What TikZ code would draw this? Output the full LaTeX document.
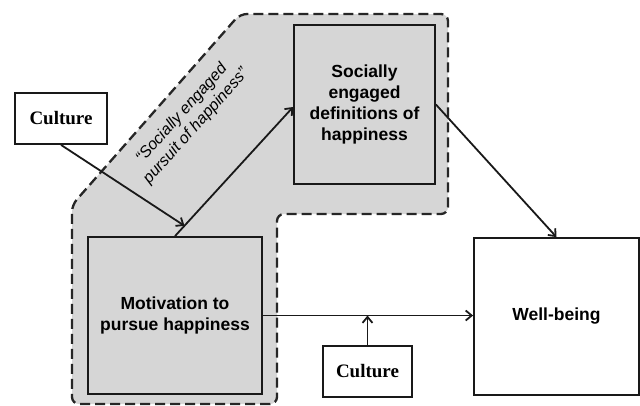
\documentclass[tikz,border=0pt]{standalone}
\usepackage{fontspec}
\setmainfont{Liberation Sans}
\newfontfamily\timesfont{Liberation Serif}
\usetikzlibrary{arrows.meta,calc}
\definecolor{regiongray}{RGB}{214,214,214}
\tikzset{
  box/.style={draw=black!90, line width=1.8pt, align=center, inner sep=0pt,
    font=\fontsize{17.5}{21}\selectfont\bfseries},
  graybox/.style={box, fill=regiongray},
  culturebox/.style={draw=black!90, line width=1.8pt, fill=white, inner sep=0pt,
    font=\timesfont\fontsize{19}{22}\selectfont\bfseries},
  arr/.style={line width=1.8pt, draw=black!90, -{Straight Barb[length=6pt,width=10pt,line width=1.8pt]}},
  region/.style={draw=black!85, fill=regiongray, line width=2.3pt,
    dash pattern=on 10pt off 5pt, rounded corners=7pt},
}
\begin{document}
\begin{tikzpicture}[x=1pt,y=-1pt]
\path[use as bounding box, fill=white] (0,0) rectangle (640,405);
% dashed region
\path[region] (277,404) -- (72,404) -- (72,205) -- (240,14) -- (448,14)
  -- (448,214) -- (277,214) -- cycle;
% boxes
\node[graybox, minimum width=174pt, minimum height=157pt] (mot) at (175,315.5)
  {Motivation to\\pursue happiness};
\node[graybox, minimum width=141pt, minimum height=159pt] (def) at (364.5,104.5)
  {Socially\\engaged\\definitions of\\happiness};
\node[box, minimum width=165pt, minimum height=157pt] (wb) at (556.5,316.5)
  {Well-being};
\node[culturebox, minimum width=92pt, minimum height=51pt] (cul1) at (61,118.5) {Culture};
\node[culturebox, minimum width=89pt, minimum height=51pt] (cul2) at (367.5,371.5) {Culture};
% label
\node[rotate=48, align=center, font=\fontsize{16}{19}\selectfont\itshape] (lab) at (189,120)
  {“Socially engaged\\pursuit of happiness”};
% connectors
\coordinate (dw) at ([yshift=-2.5pt]def.west);
\draw[arr] (mot.north) -- (dw);
\coordinate (hit) at ($(mot.north)!0.08!(dw)$);
\draw[arr] (cul1.south) -- (hit);
\draw[arr] (def.east) -- (wb.north);
\draw[arr] (mot.east) -- (mot.east -| wb.west);
\draw[arr] (cul2.north) -- (cul2.north |- mot.east);
\end{tikzpicture}
\end{document}
